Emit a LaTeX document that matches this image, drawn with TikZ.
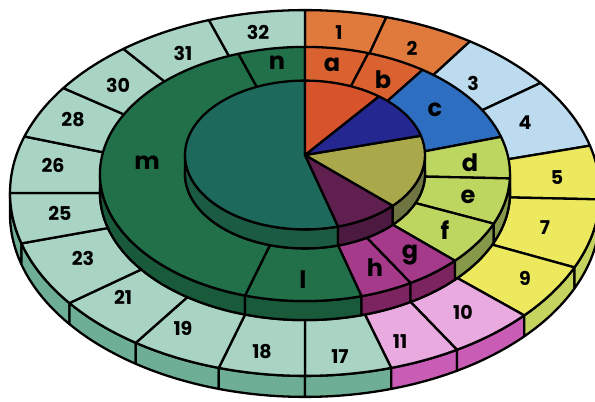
\documentclass[tikz,border=0pt]{standalone}
\usepackage{fontspec}
\setmainfont{Poppins}
\definecolor{cOut}{HTML}{A9D3C3}
\definecolor{cOutW}{HTML}{6DAE94}
\definecolor{cOrng}{HTML}{E07A3C}
\definecolor{cLblue}{HTML}{BCDBEE}
\definecolor{cYell}{HTML}{EDE95E}
\definecolor{cYellW}{HTML}{C5D45E}
\definecolor{cPink}{HTML}{E9AADF}
\definecolor{cPinkW}{HTML}{C95DB5}
\definecolor{cDgreen}{HTML}{21704A}
\definecolor{cDgreenW}{HTML}{185A3A}
\definecolor{cRedm}{HTML}{DA6230}
\definecolor{cBluec}{HTML}{2E6EC0}
\definecolor{cLgreen}{HTML}{BDD660}
\definecolor{cLgreenW}{HTML}{86984A}
\definecolor{cMag}{HTML}{A53A8B}
\definecolor{cMagW}{HTML}{7C245F}
\definecolor{cPteal}{HTML}{1D6A5D}
\definecolor{cPtealW}{HTML}{1C5B43}
\definecolor{cPred}{HTML}{D6532B}
\definecolor{cPnavy}{HTML}{24278F}
\definecolor{cPolive}{HTML}{A9A94C}
\definecolor{cPoliveW}{HTML}{6F7541}
\definecolor{cPpurp}{HTML}{5F1F4F}
\definecolor{cPpurpW}{HTML}{4C1A40}
% annular sector: cy, r1, r2, a, b, colour
\newcommand{\rseg}[6]{%
  \filldraw[fill=#6,segline] ({305+#3*cos(#4)},{#1+0.62*#3*sin(#4)})
    arc[start angle=#4,end angle=#5,x radius=#3,y radius={0.62*#3}]
    -- ({305+#2*cos(#5)},{#1+0.62*#2*sin(#5)})
    arc[start angle=#5,end angle=#4,x radius=#2,y radius={0.62*#2}] -- cycle;}
% wall: cy, R, h, a, b, colour
\newcommand{\rwall}[6]{%
  \filldraw[fill=#6,segline] ({305+#2*cos(#4)},{#1+0.62*#2*sin(#4)})
    arc[start angle=#4,end angle=#5,x radius=#2,y radius={0.62*#2}]
    -- ++(0,-#3)
    arc[start angle=#5,end angle=#4,x radius=#2,y radius={0.62*#2}] -- cycle;}
% pie wedge: cy, R, a, b, colour
\newcommand{\pwedgeX}[5]{%
  \filldraw[fill=#5,segline] (305,#1) -- ({305+#2*cos(#3)},{#1+0.62*#2*sin(#3)})
    arc[start angle=#3,end angle=#4,x radius=#2,y radius={0.62*#2}] -- cycle;}
\begin{document}
\begin{tikzpicture}[x=1pt,y=1pt,
  segline/.style={draw=black,line width=2.3pt,line join=round},
  numlab/.style={font=\fontsize{19}{19}\selectfont\bfseries,inner sep=0pt},
  letlab/.style={font=\fontsize{24}{24}\selectfont\bfseries,inner sep=0pt}]
\fill[white] (0,0) rectangle (595,402);
\useasboundingbox (0,0) rectangle (595,402);
\clip (0,0) rectangle (595,402);
% ---------- outer ring walls ----------
\rwall{209}{295}{21}{180}{196}{cOutW}
\rwall{209}{295}{21}{196}{217}{cOutW}
\rwall{209}{295}{21}{217}{235}{cOutW}
\rwall{209}{295}{21}{235}{253}{cOutW}
\rwall{209}{295}{21}{253}{270}{cOutW}
\rwall{209}{295}{21}{270}{287}{cOutW}
\rwall{209}{295}{21}{287}{301}{cPinkW}
\rwall{209}{295}{21}{301}{318}{cPinkW}
\rwall{209}{295}{21}{318}{336}{cYellW}
\rwall{209}{295}{21}{336}{358}{cYellW}
\rwall{209}{295}{21}{358}{360}{cYellW}
% ---------- outer ring tops ----------
\rseg{209}{205}{295}{74}{90}{cOrng}
\rseg{209}{205}{295}{56}{74}{cOrng}
\rseg{209}{205}{295}{37}{56}{cLblue}
\rseg{209}{205}{295}{15}{37}{cLblue}
\rseg{209}{205}{295}{-2}{15}{cYell}
\rseg{209}{205}{295}{-24}{-2}{cYell}
\rseg{209}{205}{295}{-42}{-24}{cYell}
\rseg{209}{205}{295}{-59}{-42}{cPink}
\rseg{209}{205}{295}{-73}{-59}{cPink}
\rseg{209}{205}{295}{-90}{-73}{cOut}
\rseg{209}{205}{295}{-107}{-90}{cOut}
\rseg{209}{205}{295}{-125}{-107}{cOut}
\rseg{209}{205}{295}{-143}{-125}{cOut}
\rseg{209}{205}{295}{-164}{-143}{cOut}
\rseg{209}{205}{295}{-180}{-164}{cOut}
\rseg{209}{205}{295}{162}{180}{cOut}
\rseg{209}{205}{295}{145}{162}{cOut}
\rseg{209}{205}{295}{128}{145}{cOut}
\rseg{209}{205}{295}{109}{128}{cOut}
\rseg{209}{205}{295}{90}{109}{cOut}
% ---------- middle ring walls ----------
\rwall{228}{205}{19}{180}{253}{cDgreenW}
\rwall{228}{205}{19}{253}{286}{cDgreenW}
\rwall{228}{205}{19}{286}{301}{cMagW}
\rwall{228}{205}{19}{301}{317}{cMagW}
\rwall{228}{205}{19}{317}{337}{cLgreenW}
\rwall{228}{205}{19}{337}{358}{cLgreenW}
\rwall{228}{205}{19}{358}{360}{cLgreenW}
% ---------- middle ring tops ----------
\rseg{228}{120}{205}{90}{109}{cDgreen}
\rseg{228}{120}{205}{72}{90}{cRedm}
\rseg{228}{120}{205}{55}{72}{cRedm}
\rseg{228}{120}{205}{17}{55}{cBluec}
\rseg{228}{120}{205}{-2}{17}{cLgreen}
\rseg{228}{120}{205}{-23}{-2}{cLgreen}
\rseg{228}{120}{205}{-43}{-23}{cLgreen}
\rseg{228}{120}{205}{-59}{-43}{cMag}
\rseg{228}{120}{205}{-74}{-59}{cMag}
\rseg{228}{120}{205}{-107}{-74}{cDgreen}
\rseg{228}{120}{205}{109}{253}{cDgreen}
% ---------- pie walls ----------
\rwall{247}{120}{19}{180}{286}{cPtealW}
\rwall{247}{120}{19}{286}{317}{cPpurpW}
\rwall{247}{120}{19}{317}{360}{cPoliveW}
% ---------- pie top ----------
\pwedgeX{247}{120}{90}{286}{cPteal}
\pwedgeX{247}{120}{286}{317}{cPpurp}
\pwedgeX{247}{120}{317}{375}{cPolive}
\pwedgeX{247}{120}{15}{52}{cPnavy}
\pwedgeX{247}{120}{52}{90}{cPred}
% ---------- labels ----------
\node[numlab] (t32) at (258,370) {32};
\node[numlab] (t1) at (339,369) {1};
\node[numlab] (t2) at (412,354) {2};
\node[numlab] (t3) at (473,319) {3};
\node[numlab] (t4) at (525,279) {4};
\node[numlab] (t5) at (557,224) {5};
\node[numlab] (t7) at (545,174) {7};
\node[numlab] (t9) at (525,124) {9};
\node[numlab] (t10) at (463,90) {10};
\node[numlab] (t11) at (400,60) {11};
\node[numlab] (t17) at (340,45) {17};
\node[numlab] (t18) at (262,50) {18};
\node[numlab] (t19) at (183,74) {19};
\node[numlab] (t21) at (123,105) {21};
\node[numlab] (t23) at (83,144) {23};
\node[numlab] (t25) at (60,189) {25};
\node[numlab] (t26) at (53,237) {26};
\node[numlab] (t28) at (73,282) {28};
\node[numlab] (t30) at (118,317) {30};
\node[numlab] (t31) at (183,349) {31};
\node[letlab] (tn) at (277,339) {n};
\node[letlab] (ta) at (332,337) {a};
\node[letlab] (tb) at (383,322) {b};
\node[letlab] (tc) at (435,292) {c};
\node[letlab] (td) at (470,239) {d};
\node[letlab] (te) at (468,205) {e};
\node[letlab] (tf) at (445,172) {f};
\node[letlab] (tg) at (410,147) {g};
\node[letlab] (th) at (375,134) {h};
\node[letlab] (tl) at (303,122) {l};
\node[letlab] (tm) at (147,239) {m};
\end{tikzpicture}
\end{document}
